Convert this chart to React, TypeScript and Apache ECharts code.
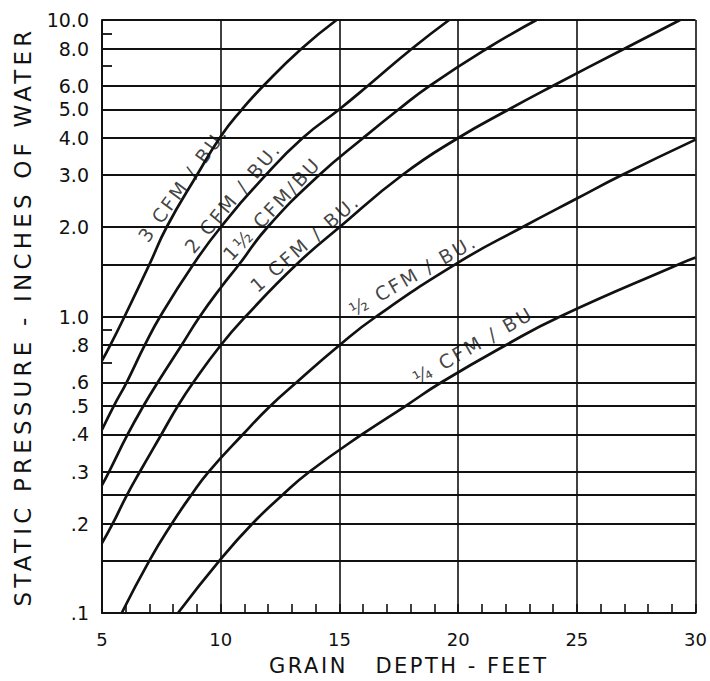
import React, { useEffect, useRef } from "react";
import * as echarts from "echarts";

// ---- data ----
const yGridValues = [0.1, 0.15, 0.2, 0.25, 0.3, 0.4, 0.5, 0.6, 0.8, 1, 1.5, 2, 3, 4, 5, 6, 8, 10];
const yLabelValues = [0.1, 0.2, 0.3, 0.4, 0.5, 0.6, 0.8, 1, 2, 3, 4, 5, 6, 8, 10];
const yLabelTexts = [".1", ".2", ".3", ".4", ".5", ".6", ".8", "1.0", "2.0", "3.0", "4.0", "5.0", "6.0", "8.0", "10.0"];
const yMinorTickValues = [0.7, 0.9, 7, 9];

const cfm3 = [[5, 0.71], [5.35, 0.8], [5.95, 1.0], [7.0, 1.5], [7.72, 2.0], [9.0, 3.0], [10, 4.05], [10.9, 5.0], [11.8, 6.0], [13.4, 8.0], [14.88, 10]];
const cfm2 = [[5, 0.415], [5.5, 0.5], [6.04, 0.6], [6.8, 0.8], [7.45, 1.0], [8.85, 1.5], [10.0, 2.0], [11.9, 3.0], [13.45, 4.0], [15.0, 5.0], [16.2, 6.0], [18.05, 8.0], [19.62, 10]];
const cfm15 = [[5, 0.27], [5.3, 0.3], [6.08, 0.4], [6.75, 0.5], [7.35, 0.6], [8.35, 0.8], [9.12, 1.0], [10, 1.25], [10.78, 1.5], [11.97, 2.0], [14.15, 3.0], [16.0, 4.0], [17.5, 5.0], [18.8, 6.0], [21.2, 8.0], [23.3, 10]];
const cfm1 = [[5, 0.172], [5.45, 0.2], [6.05, 0.25], [6.6, 0.3], [7.5, 0.4], [8.2, 0.5], [8.85, 0.6], [10, 0.8], [11.05, 1.0], [13.2, 1.5], [15, 2.0], [17.65, 3.0], [20.0, 4.0], [22.15, 5.0], [24.0, 6.0], [27.0, 8.0], [29.35, 10]];
const cfmHalf = [[5.83, 0.1], [6.99, 0.15], [7.94, 0.2], [8.76, 0.25], [9.5, 0.3], [10.93, 0.4], [12.1, 0.5], [13.2, 0.6], [15, 0.8], [16.55, 1.0], [20, 1.52], [22.7, 2.0], [25, 2.5], [26.9, 3.0], [30, 3.95]];
const cfmQuarter = [[8.2, 0.1], [10, 0.152], [11.33, 0.2], [12.6, 0.25], [13.75, 0.3], [15.95, 0.4], [17.8, 0.5], [19.3, 0.6], [22.0, 0.8], [24.3, 1.0], [29.3, 1.5], [30, 1.58]];

const curves = [cfm3, cfm2, cfm15, cfm1, cfmHalf, cfmQuarter];
const curveNames = ["3 CFM / BU.", "2 CFM / BU.", "1½ CFM/BU", "1 CFM / BU.", "½ CFM / BU.", "¼ CFM / BU"];
// label anchor (depth, pressure) and angle for each curve label
const labelAnchors = [[8.4, 2.8], [10.5, 2.52], [12.15, 2.31], [13.55, 1.77], [18.1, 1.38], [20.63, 0.8]];
const labelAngles = [54, 50, 47, 41, 30, 30];

const xTitle = "GRAIN   DEPTH - FEET";
const yTitle = "STATIC PRESSURE - INCHES OF WATER";

const FONT = "DejaVu Sans";
const INK = "#111";

export default function App() {
  const ref = useRef<HTMLDivElement>(null);
  useEffect(() => {
    if (!ref.current) return;
    const el = ref.current;
    const chart = echarts.init(el, null, { renderer: "svg" });
    const lineSeries = curves.map((c, i) => ({
      type: "line",
      name: curveNames[i],
      data: c,
      symbol: "none",
      smooth: 0.5,
      lineStyle: { color: INK, width: 2.7 },
      silent: true,
      z: 5,
    }));
    const labelSeries = {
      type: "scatter",
      symbolSize: 0.1,
      itemStyle: { color: "transparent" },
      silent: true,
      z: 6,
      data: labelAnchors.map((a, i) => ({
        value: a,
        name: curveNames[i],
        label: { rotate: labelAngles[i] },
      })),
      label: {
        show: true,
        position: "inside",
        formatter: (p: any) => p.name,
        color: INK,
        fontFamily: FONT,
        fontSize: 19,
      },
    };
    chart.setOption({
      animation: false,
      backgroundColor: "#fff",
      grid: { left: 102, right: 13, top: 20, bottom: 67 },
      xAxis: {
        type: "value",
        min: 5,
        max: 30,
        interval: 5,
        name: xTitle,
        nameLocation: "middle",
        nameGap: 42,
        nameTextStyle: { color: INK, fontFamily: FONT, fontSize: 21, padding: [0, 0, 0, 20] },
        axisLine: { show: true, lineStyle: { color: INK, width: 2 } },
        axisTick: { show: true, inside: true, length: 9, lineStyle: { color: INK, width: 1.6 } },
        minorTick: { show: true, splitNumber: 5, length: 9, lineStyle: { color: INK, width: 1.6 } },
        axisLabel: { color: INK, fontFamily: FONT, fontSize: 18, margin: 17 },
        splitLine: { show: true, lineStyle: { color: INK, width: 1.6 } },
      },
      yAxis: [
        {
          type: "log",
          logBase: 10,
          min: 0.1,
          max: 10,
          name: yTitle,
          nameLocation: "middle",
          nameGap: 68,
          nameTextStyle: { color: INK, fontFamily: FONT, fontSize: 23 },
          axisLine: { show: true, lineStyle: { color: INK, width: 2 } },
          axisTick: { show: false, customValues: yGridValues },
          axisLabel: {
            color: INK,
            fontFamily: FONT,
            fontSize: 19,
            margin: 13,
            customValues: yLabelValues,
            formatter: (v: number) => {
              const idx = yLabelValues.findIndex((u) => Math.abs(u - v) < 1e-6 * Math.max(1, u));
              return idx >= 0 ? yLabelTexts[idx] : "";
            },
          },
          splitLine: { show: true, lineStyle: { color: INK, width: 2 } },
        },
        {
          type: "log",
          logBase: 10,
          min: 0.1,
          max: 10,
          position: "left",
          offset: 0,
          axisLine: { show: false },
          axisLabel: { show: false },
          splitLine: { show: false },
          axisTick: { show: true, inside: true, length: 10, customValues: yMinorTickValues, lineStyle: { color: INK, width: 1.8 } },
        },
      ],
      series: [...lineSeries, labelSeries],
    });

    // widen the letter spacing of the hand-lettered titles and curve labels
    const spacing: Record<string, string> = { [yTitle]: "4.2px", [xTitle]: "2.5px" };
    curveNames.forEach((n) => (spacing[n] = "2.5px"));
    const applySpacing = () => {
      el.querySelectorAll("text").forEach((t) => {
        const s = spacing[(t.textContent || "").trim()] ?? spacing[t.textContent || ""];
        if (s) (t as SVGTextElement).style.letterSpacing = s;
      });
    };
    applySpacing();
    chart.on("finished", applySpacing);
    const timer = setTimeout(applySpacing, 50);
    return () => {
      clearTimeout(timer);
      chart.dispose();
    };
  }, []);
  return (
    <div
      ref={ref}
      style={{ position: "fixed", left: 0, top: 0, width: 710, height: 681, background: "#fff" }}
    />
  );
}
